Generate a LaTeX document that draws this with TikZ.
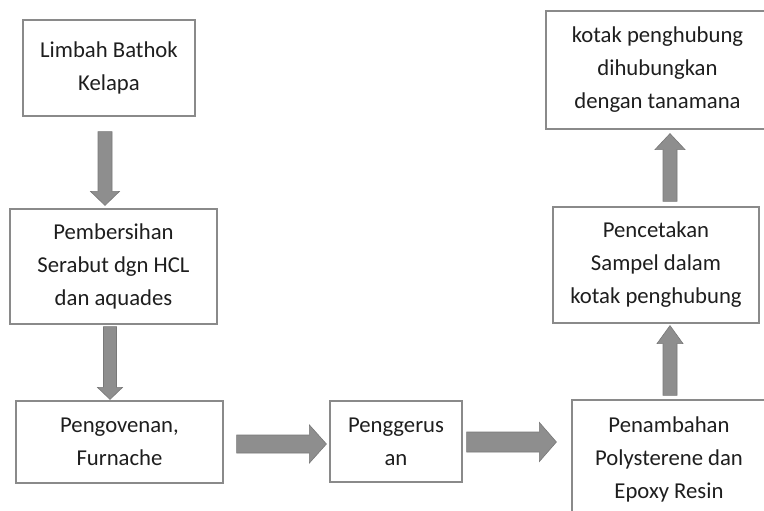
\documentclass[tikz,border=0pt]{standalone}
\usepackage{fontspec}
\setmainfont{Carlito}
\usetikzlibrary{calc}
\definecolor{boxline}{HTML}{8A8A8A}
\definecolor{arrfill}{HTML}{8E8E8E}
\definecolor{arredge}{HTML}{787878}
\definecolor{txt}{HTML}{1E1E1E}
\tikzset{
  box/.style={draw=boxline, line width=1.2pt, fill=white, text=txt, align=center,
    inner sep=0pt, font=\fontsize{22.7}{33}\selectfont},
  barrow/.style n args={3}{draw=arredge, fill=arrfill, line width=0.6pt, line join=miter,
    to path={
      ($(\tikztostart)!#1!90:(\tikztotarget)$) --
      ($($(\tikztotarget)!#3!(\tikztostart)$)!#1!-90:(\tikztostart)$) --
      ($($(\tikztotarget)!#3!(\tikztostart)$)!#2!-90:(\tikztostart)$) --
      (\tikztotarget) --
      ($($(\tikztotarget)!#3!(\tikztostart)$)!#2!90:(\tikztostart)$) --
      ($($(\tikztotarget)!#3!(\tikztostart)$)!#1!90:(\tikztostart)$) --
      ($(\tikztostart)!#1!-90:(\tikztotarget)$) -- cycle
    }},
}
\begin{document}
\begin{tikzpicture}[x=1pt,y=-1pt]
\useasboundingbox (0,0) rectangle (764,511);
\clip (0,0) rectangle (764,511);
\fill[white] (0,0) rectangle (764,511);

\node[box, minimum width=172pt, minimum height=96pt] (b1) at (109,68) {Limbah Bathok\\Kelapa};
\node[box, minimum width=207pt, minimum height=115pt] (b2) at (113.5,266.5) {Pembersihan\\Serabut dgn HCL\\dan aquades};
\node[box, minimum width=207pt, minimum height=82pt] (b3) at (119.5,442) {Pengovenan,\\Furnache};
\node[box, minimum width=132pt, minimum height=81pt] (b4) at (396,441.5) {Penggerus\\an};
\node[box, minimum width=194pt, minimum height=118pt] (b5) at (669,459) {Penambahan\\Polysterene dan\\Epoxy Resin};
\node[box, minimum width=206pt, minimum height=116pt] (b6) at (656,265) {Pencetakan\\Sampel dalam\\kotak penghubung};
\node[box, minimum width=223pt, minimum height=118pt] (b7) at (657.5,70) {kotak penghubung\\dihubungkan\\dengan tanamana};

\coordinate (a1s) at ($(b1.south)+(-4,15)$);
\coordinate (a1e) at ($(b2.north)+(-8.5,-3)$);
\coordinate (a2s) at ($(b2.south)+(-3.5,2)$);
\coordinate (a2e) at ($(b3.north)+(-9.5,-1)$);
\coordinate (a3s) at ($(b3.east)+(13,2)$);
\coordinate (a3e) at ($(b4.west)+(-3,2.5)$);
\coordinate (a4s) at ($(b4.east)+(4,0.5)$);
\coordinate (a4e) at ($(b5.west |- b4.east)+(-15,0.5)$);
\coordinate (a5s) at ($(b6.north)+(14,-5)$);
\coordinate (a5e) at ($(b7.south)+(12.5,4)$);
\coordinate (a6s) at ($(b5.north)+(1,-4)$);
\coordinate (a6e) at ($(b6.south)+(14,2)$);

\draw[barrow={7pt}{14.5pt}{14pt}] (a1s) to (a1e);
\draw[barrow={6.5pt}{12.5pt}{12pt}] (a2s) to (a2e);
\draw[barrow={9pt}{19pt}{17pt}] (a3s) to (a3e);
\draw[barrow={10pt}{19.5pt}{17pt}] (a4s) to (a4e);
\draw[barrow={7pt}{15pt}{16pt}] (a5s) to (a5e);
\draw[barrow={7pt}{13pt}{18pt}] (a6s) to (a6e);
\end{tikzpicture}
\end{document}
